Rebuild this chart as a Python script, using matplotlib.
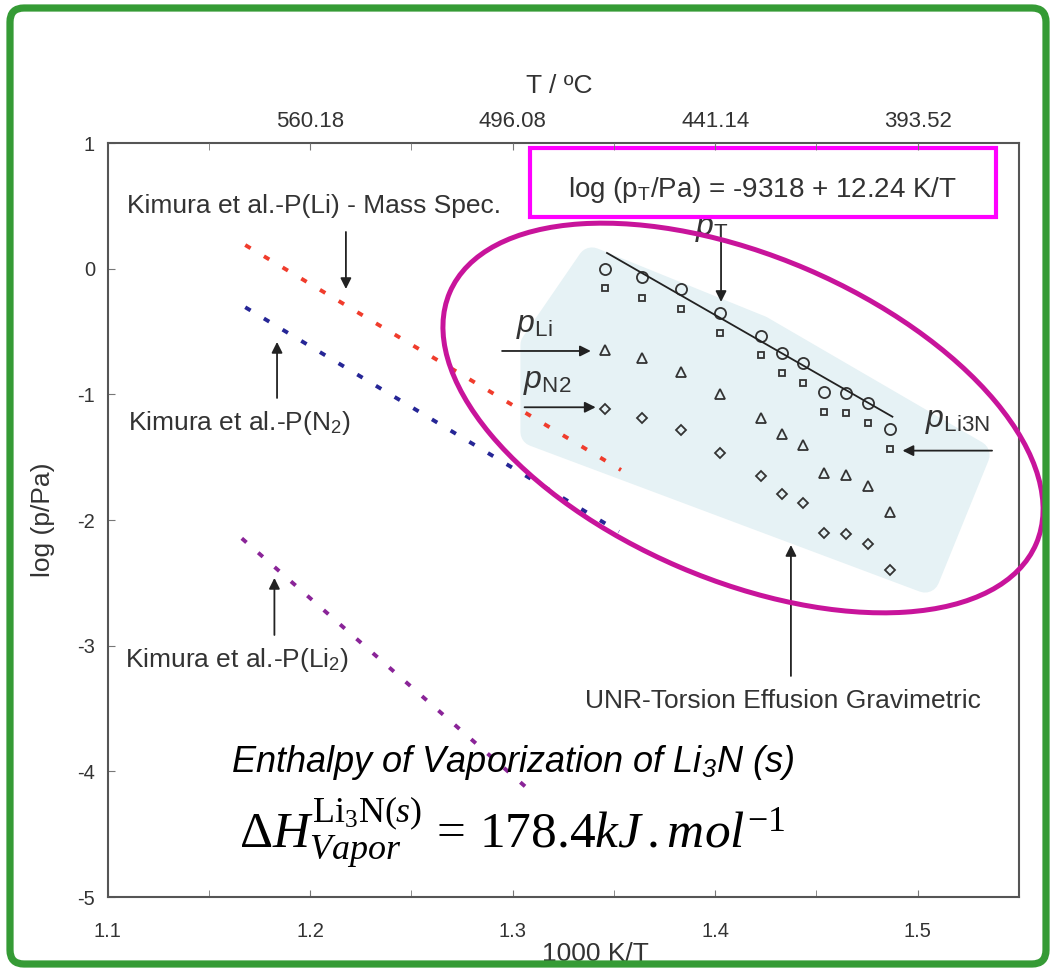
import matplotlib.pyplot as plt
from matplotlib.patches import Ellipse, FancyBboxPatch, Polygon, Rectangle
from matplotlib.transforms import Affine2D

plt.rcParams['font.family'] = ['Liberation Sans', 'DejaVu Sans']
plt.rcParams['axes.unicode_minus'] = False
plt.rcParams['mathtext.fontset'] = 'custom'
plt.rcParams['mathtext.rm'] = 'Liberation Serif'
plt.rcParams['mathtext.it'] = 'Liberation Serif:italic'
plt.rcParams['mathtext.sf'] = 'Liberation Sans'
plt.rcParams['mathtext.bf'] = 'Liberation Sans:italic'

# torsion effusion runs, x = 1000 K/T
inv_temp = [1.3455, 1.364, 1.383, 1.4026, 1.4225, 1.433, 1.4432, 1.4538, 1.4645, 1.4755, 1.4864]
log_p_total = [0.0, -0.07, -0.164, -0.350, -0.534, -0.674, -0.748, -0.979, -0.993, -1.068, -1.278]
log_p_li3n = [-0.156, -0.231, -0.323, -0.509, -0.689, -0.828, -0.907, -1.138, -1.146, -1.231, -1.438]
log_p_li = [-0.647, -0.713, -0.820, -0.997, -1.191, -1.318, -1.403, -1.628, -1.642, -1.729, -1.934]
log_p_n2 = [-1.119, -1.191, -1.284, -1.469, -1.650, -1.793, -1.867, -2.101, -2.111, -2.191, -2.398]

# fitted total pressure line
fit_x = [1.3466, 1.4875]
fit_y = [0.125, -1.178]

# Kimura et al. mass spectrometry lines
kimura_li_x = [1.168, 1.3535]
kimura_li_y = [0.188, -1.602]
kimura_n2_x = [1.168, 1.3525]
kimura_n2_y = [-0.307, -2.093]
kimura_li2_x = [1.1663, 1.3114]
kimura_li2_y = [-2.146, -4.194]

x_ticks = [1.1, 1.2, 1.3, 1.4, 1.5]
x_minor = [1.15, 1.25, 1.35, 1.45, 1.55]
y_ticks = [-5, -4, -3, -2, -1, 0, 1]
celsius_ticks = [1.2, 1.3, 1.4, 1.5]

W, H = 1054, 971
fig = plt.figure(figsize=(W / 100, H / 100), dpi=100)
ax = fig.add_axes([107.5 / W, (H - 897) / H, 911.5 / W, 754 / H])
# shapes placed in image pixels (origin top-left)
img = Affine2D().scale(1, -1).translate(0, H)

ax.set_xlim(1.1, 1.55)
ax.set_ylim(-5, 1)

# shaded band behind the measurements
band = Polygon([(592, 262), (760, 330), (975, 455), (925, 578), (535, 432), (535, 345)],
               closed=True, transform=img, fc='#e6f2f5', ec='#e6f2f5', lw=21,
               joinstyle='round', zorder=0.5, clip_on=False)
ax.add_patch(band)

dash = (0, (1.6, 4.0))
ax.plot(kimura_li_x, kimura_li_y, color='#f03c2c', lw=2.8, ls=dash, zorder=2)
ax.plot(kimura_n2_x, kimura_n2_y, color='#262696', lw=2.8, ls=dash, zorder=2)
ax.plot(kimura_li2_x, kimura_li2_y, color='#8a2498', lw=2.8, ls=dash, zorder=2)

mk = dict(ls='none', mfc='none', mec='#333333', mew=1.3, zorder=3)
ax.plot(inv_temp, log_p_total, 'o', ms=8, **mk)
ax.plot(inv_temp, log_p_li3n, 's', ms=5, **mk)
ax.plot(inv_temp, log_p_li, '^', ms=7.5, **mk)
ax.plot(inv_temp, log_p_n2, 'D', ms=5, **mk)
ax.plot(fit_x, fit_y, color='#222222', lw=1.3, zorder=3)

# axes styling
for s in ax.spines.values():
    s.set_color('#555555')
    s.set_linewidth(1.5)
ax.set_xticks(x_ticks)
ax.set_xticks(x_minor, minor=True)
ax.set_xticklabels([f'{v:g}' for v in x_ticks])
ax.set_yticks(y_ticks)
ax.set_yticklabels([f'{v:d}' for v in y_ticks])
ax.tick_params(axis='x', which='both', direction='in', length=5, color='#777777',
               labelsize=14.5, labelcolor='#333333', pad=18)
ax.tick_params(axis='y', direction='in', length=5, color='#777777',
               labelsize=14.5, labelcolor='#333333', pad=9)
ax.set_xlabel('1000 K/T', fontsize=19, color='#333333')
ax.xaxis.set_label_coords(0.535, -0.06)
ax.set_ylabel('log (p/Pa)', fontsize=19, color='#333333')
ax.yaxis.set_label_coords(-0.058, 0.5)

ax_top = ax.twiny()
ax_top.set_xlim(ax.get_xlim())
ax_top.set_xticks(celsius_ticks)
ax_top.set_xticks(x_minor[:-1], minor=True)
ax_top.set_xticklabels([f'{1000 / v - 273.15:.2f}' for v in celsius_ticks])
ax_top.tick_params(axis='x', which='both', direction='in', length=5, color='#777777',
                   labelsize=16, labelcolor='#333333', pad=8)
ax_top.set_xlabel('T / ºC', fontsize=19, color='#333333', labelpad=10)
ax_top.xaxis.set_label_coords(0.496, 1.066)
for s in ax_top.spines.values():
    s.set_visible(False)

# annotations
txt = dict(fontsize=19, color='#333333')
ptxt = dict(fontsize=23, color='#333333')
arr = dict(arrowstyle='-|>', color='#222222', lw=1.3, mutation_scale=16, shrinkA=0, shrinkB=0)

ax.text(1.1096, 0.443, 'Kimura et al.-P(Li) - Mass Spec.', **txt)
ax.annotate('', xy=(1.2177, -0.162), xytext=(1.2177, 0.292), arrowprops=arr)
ax.text(1.1101, -1.284, r'Kimura et al.-P(N$_\mathsf{2}$)', **txt)
ax.annotate('', xy=(1.1837, -0.583), xytext=(1.1837, -1.029), arrowprops=arr)
ax.text(1.1086, -3.170, r'Kimura et al.-P(Li$_\mathsf{2}$)', **txt)
ax.annotate('', xy=(1.1824, -2.461), xytext=(1.1824, -2.915), arrowprops=arr)
ax.text(1.3357, -3.496, 'UNR-Torsion Effusion Gravimetric', **txt)
ax.annotate('', xy=(1.4374, -2.199), xytext=(1.4374, -3.241), arrowprops=arr)

ax.text(1.3898, 0.268, r'$\mathbf{p}_\mathsf{T}$', **ptxt)
ax.annotate('', xy=(1.4029, -0.265), xytext=(1.4029, 0.228), arrowprops=arr)
ax.text(1.3016, -0.504, r'$\mathbf{p}_\mathsf{Li}$', **ptxt)
ax.annotate('', xy=(1.3386, -0.655), xytext=(1.2948, -0.655), arrowprops=arr)
ax.text(1.3052, -0.950, r'$\mathbf{p}_\mathsf{N2}$', **ptxt)
ax.annotate('', xy=(1.3410, -1.103), xytext=(1.3059, -1.103), arrowprops=arr)
ax.text(1.5034, -1.260, r'$\mathbf{p}_\mathsf{Li3N}$', **ptxt)
ax.annotate('', xy=(1.4925, -1.448), xytext=(1.5367, -1.448), arrowprops=arr)

# fitted equation in a magenta frame
ax.add_patch(Rectangle((1.3086, 0.411), 0.2301, 0.549, fill=False, ec='#ff00ff',
                       lw=3, zorder=5, clip_on=False))
ax.text(1.4234, 0.570, r'log (p$_\mathsf{T}$/Pa) = -9318 + 12.24 K/T', ha='center',
        fontsize=20, color='#333333')

# highlight of the measured data
ax.add_patch(Ellipse((743, 418), 638, 324, angle=23.2, transform=img, fill=False,
                     ec='#c8149b', lw=3.6, zorder=6, clip_on=False))

ax.text(1.3, -3.93, r'Enthalpy of Vaporization of Li$_\mathbf{3}$N (s)', fontsize=26,
        style='italic', color='black', ha='center', va='center')
ax.text(1.3, -4.49, r'$\Delta H^{\mathrm{Li}_3\mathrm{N}(s)}_{Vapor}\,=\,178.4kJ\,.mol^{-1}$',
        fontsize=37, color='black', ha='center', va='center')

# green frame around the figure
fig.add_artist(FancyBboxPatch((10, 8), 1036, 956, boxstyle='round,pad=0,rounding_size=14',
                              transform=img, fill=False, ec='#359b35', lw=5.2))

fig.savefig('out.png', dpi=100)
